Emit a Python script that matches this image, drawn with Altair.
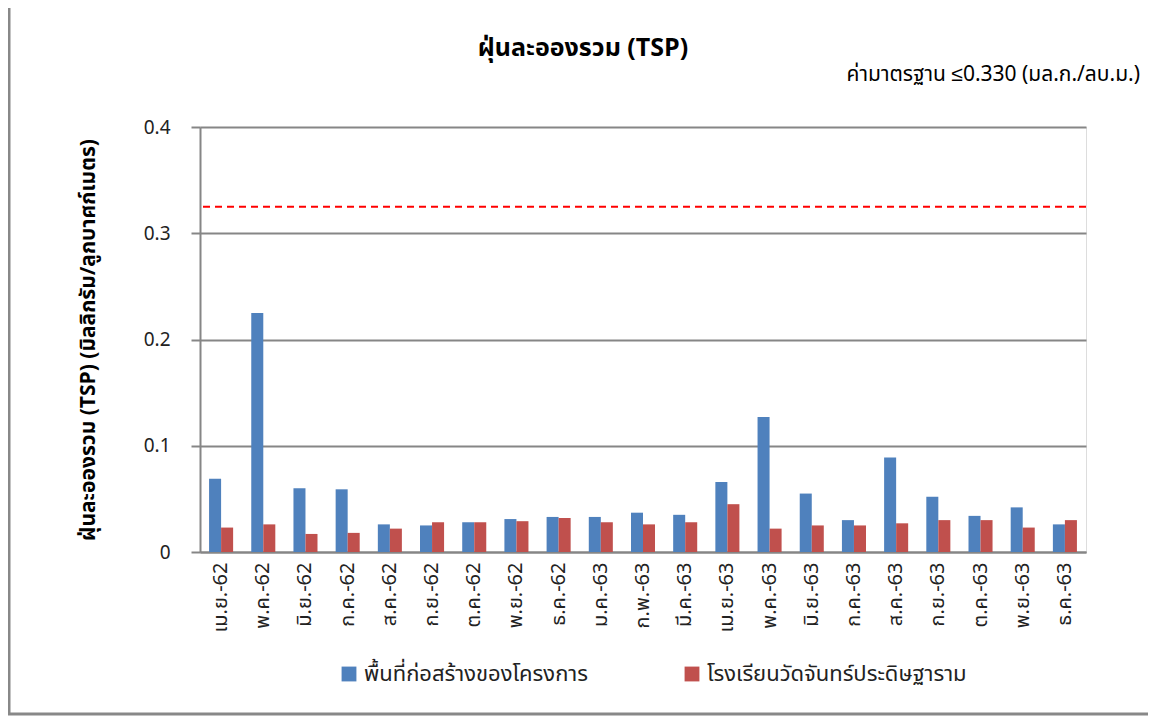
import altair as alt
import pandas as pd

months = ["เม.ย.-62", "พ.ค.-62", "มิ.ย.-62", "ก.ค.-62", "ส.ค.-62", "ก.ย.-62",
          "ต.ค.-62", "พ.ย.-62", "ธ.ค.-62", "ม.ค.-63", "ก.พ.-63", "มี.ค.-63",
          "เม.ย.-63", "พ.ค.-63", "มิ.ย.-63", "ก.ค.-63", "ส.ค.-63", "ก.ย.-63",
          "ต.ค.-63", "พ.ย.-63", "ธ.ค.-63"]
site = [0.069, 0.225, 0.060, 0.059, 0.026, 0.025, 0.028, 0.031, 0.033, 0.033, 0.037,
        0.035, 0.066, 0.127, 0.055, 0.030, 0.089, 0.052, 0.034, 0.042, 0.026]
school = [0.023, 0.026, 0.017, 0.018, 0.022, 0.028, 0.028, 0.029, 0.032, 0.028, 0.026,
          0.028, 0.045, 0.022, 0.025, 0.025, 0.027, 0.030, 0.030, 0.023, 0.030]
series_names = ["พื้นที่ก่อสร้างของโครงการ", "โรงเรียนวัดจันทร์ประดิษฐาราม"]
colors = ["#4F81BD", "#C0504D"]
standard = [0.325]

title_text = "ฝุ่นละอองรวม (TSP)"
note_text = "ค่ามาตรฐาน ≤0.330 (มล.ก./ลบ.ม.)"
y_title = "ฝุ่นละอองรวม (TSP) (มิลลิกรัม/ลูกบาศก์เมตร)"

FONT = "Tahoma, 'Noto Sans Thai', 'Noto Sans', sans-serif"
W, H = 886, 425

rows = []
for i, m in enumerate(months):
    rows.append({"month": m, "series": series_names[0], "order": 0, "value": site[i]})
    rows.append({"month": m, "series": series_names[1], "order": 1, "value": school[i]})
df = pd.DataFrame(rows)

bars = alt.Chart(df).mark_bar().encode(
    x=alt.X("month:N", sort=months, title=None,
            scale=alt.Scale(paddingInner=0.43, paddingOuter=0.215),
            axis=alt.Axis(labelAngle=-90, labelFontSize=20, labelColor="#222",
                          labelPadding=10, ticks=False, domainColor="#868686",
                          domainWidth=2, labelFont=FONT, labelBaseline="middle")),
    xOffset=alt.XOffset("order:O"),
    y=alt.Y("value:Q", title=y_title,
            scale=alt.Scale(domain=[0, 0.4]),
            axis=alt.Axis(values=[0, 0.1, 0.2, 0.3, 0.4], format="~g",
                          labelFontSize=19, labelColor="#222", labelFont=FONT,
                          tickSize=9, tickColor="#868686", tickWidth=2,
                          labelPadding=21, domainColor="#868686", domainWidth=2,
                          gridColor="#868686", gridWidth=2,
                          titleFont=FONT, titleFontSize=21, titleFontWeight="bold",
                          titleColor="#000", titleX=-112, titleY=H / 2,
                          titleAngle=-90, titleAlign="center", titleBaseline="middle")),
    color=alt.Color("series:N", sort=series_names,
                    scale=alt.Scale(domain=series_names, range=colors),
                    legend=alt.Legend(title=None, orient="none", legendX=138, legendY=536,
                                      direction="horizontal", symbolType="square",
                                      symbolSize=220, symbolStrokeWidth=0,
                                      labelFontSize=22, labelFont=FONT, labelColor="#222",
                                      columnPadding=92, labelLimit=400)),
)

std_rule = alt.Chart(pd.DataFrame({"std": standard})).mark_rule(
    color="#FF0000", strokeDash=[7, 5], strokeWidth=2
).encode(y="std:Q")

title_mark = alt.Chart(pd.DataFrame({"t": [title_text]})).mark_text(
    fontSize=25, fontWeight="bold", font=FONT, color="#000", baseline="middle", align="center"
).encode(x=alt.value(383), y=alt.value(-79), text="t:N")

note_mark = alt.Chart(pd.DataFrame({"t": [note_text]})).mark_text(
    fontSize=21, font=FONT, color="#000", baseline="middle", align="right"
).encode(x=alt.value(940), y=alt.value(-52), text="t:N")

frame = alt.Chart(pd.DataFrame({"a": [0]})).mark_rect(
    fill="transparent", stroke="#888888", strokeWidth=3
).encode(x=alt.value(-191), x2=alt.value(W + 120), y=alt.value(-121), y2=alt.value(587))

chart = alt.layer(frame, bars, std_rule, title_mark, note_mark).properties(
    width=W, height=H,
    autosize=alt.AutoSizeParams(type="none"),
    padding={"left": 192, "top": 119, "right": 62, "bottom": 164},
).configure_view(stroke=None).configure(font=FONT)

chart.save("out.html", embed_options={"renderer": "svg", "actions": False})
